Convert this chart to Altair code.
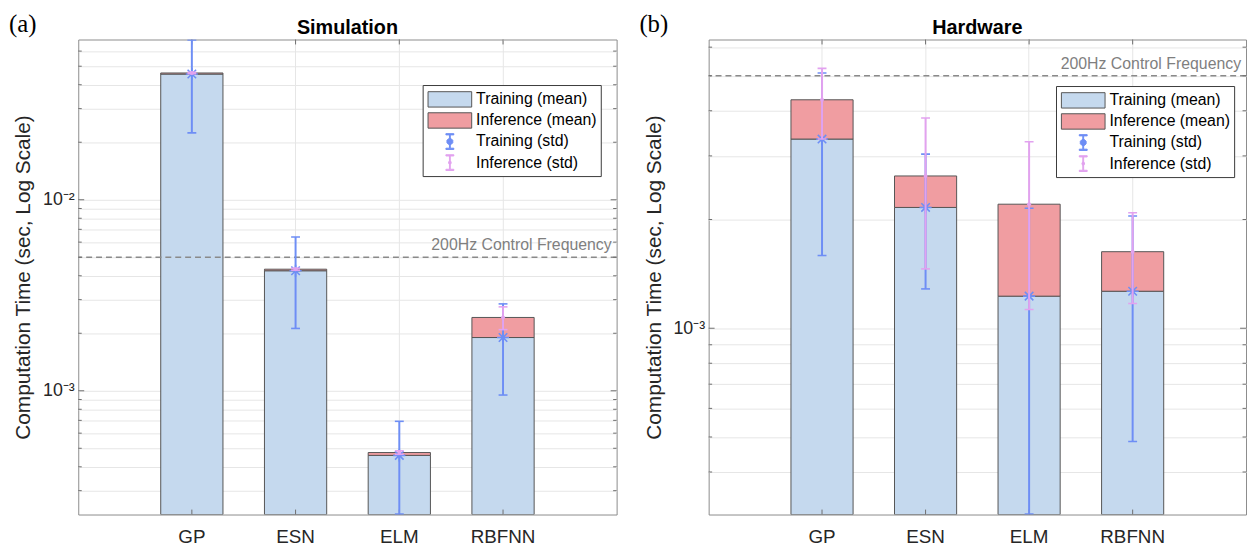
import altair as alt
import pandas as pd

# ---------------- data ----------------
models = ["GP", "ESN", "ELM", "RBFNN"]

sim_train_mean = [0.0455, 0.00425, 4.59e-4, 1.90e-3]
sim_infer_mean = [0.0006, 0.00008, 1.6e-5, 5.2e-4]
sim_train_std = [0.0231, 0.00213, 2.33e-4, 9.5e-4]
sim_infer_std = [0.0004, 0.00005, 1.0e-5, 3.3e-4]

hw_train_mean = [3.34e-3, 2.16e-3, 1.227e-3, 1.266e-3]
hw_infer_mean = [0.95e-3, 0.48e-3, 0.978e-3, 0.363e-3]
hw_train_std = [1.75e-3, 0.875e-3, 0.921e-3, 0.78e-3]
hw_infer_std = [0.95e-3, 1.18e-3, 1.078e-3, 0.458e-3]

sim_y_domain = [2.25e-4, 0.069]
hw_y_domain = [3.05e-4, 6.30e-3]
sim_grid = [3e-4, 4e-4, 5e-4, 6e-4, 7e-4, 8e-4, 9e-4,
            1e-3, 2e-3, 3e-3, 4e-3, 5e-3, 6e-3, 7e-3, 8e-3, 9e-3,
            1e-2, 2e-2, 3e-2, 4e-2, 5e-2, 6e-2]
hw_grid = [4e-4, 5e-4, 6e-4, 7e-4, 8e-4, 9e-4,
           1e-3, 2e-3, 3e-3, 4e-3, 5e-3, 6e-3]

control_period = [1.0 / 200.0]
control_label = "200Hz Control Frequency"
legend_labels = ["Training (mean)", "Inference (mean)", "Training (std)", "Inference (std)"]
panel_titles = ["Simulation", "Hardware"]
panel_tags = ["(a)", "(b)"]
y_title = "Computation Time (sec, Log Scale)"

# ---------------- styles ----------------
FONT = "Liberation Sans"
TRAIN_FILL = "#c5d9ee"
INFER_FILL = "#f09da1"
EDGE = "#555555"
BLUE = "#6e8ef5"
PINK = "#e2a2ef"
FRAME = "#8c8c8c"
TICK = "#6e6e6e"
STAR = "M-1,0H1M0,-1V1M-0.7,-0.7L0.7,0.7M-0.7,0.7L0.7,-0.7"
RECT = "M-2.1,-0.74H2.1V0.74H-2.1Z"
IBEAM_DOT = ("M-0.38,-0.76H0.38V-0.64H0.04V0.64H0.38V0.76H-0.38V0.64H-0.04V-0.64H-0.38Z "
             "M-0.12,-0.28L0.12,-0.28L0.28,-0.12L0.28,0.12L0.12,0.28L-0.12,0.28L-0.28,0.12L-0.28,-0.12Z")
IBEAM = ("M-0.38,-0.76H0.38V-0.64H0.04V0.64H0.38V0.76H-0.38V0.64H-0.04V-0.64H-0.38Z "
         "M-0.08,-0.12L0.08,-0.12L0.12,-0.08L0.12,0.08L0.08,0.12L-0.08,0.12L-0.12,0.08L-0.12,-0.08Z")

LOG10 = "log(datum.value)/LN10"
LABEL_EXPR = ("abs(" + LOG10 + " - round(" + LOG10 + ")) < 0.001 ? "
              "(round(" + LOG10 + ") == -2 ? '10⁻²' : (round(" + LOG10 + ") == -3 ? '10⁻³' : '')) : ''")

PLOT_H = 480


def panel(title_text, tag, train, infer, tstd, istd, ydom, grid_vals, width, legend_x, legend_y):
    df = pd.DataFrame({"model": models, "train": train, "infer": infer,
                       "tstd": tstd, "istd": istd})
    base = alt.Chart(df).transform_calculate(
        total="datum.train + datum.infer",
        t_lo="datum.train - datum.tstd",
        t_hi="datum.train + datum.tstd",
        i_lo="datum.train + datum.infer - datum.istd",
        i_hi="datum.train + datum.infer + datum.istd",
        base=str(ydom[0]),
    )
    xaxis = alt.Axis(title=None, labelAngle=0, labelFontSize=19, labelFont=FONT,
                     labelColor="#262626", grid=True, ticks=False, domain=False,
                     bandPosition=0.5, labelPadding=13)
    x = alt.X("model:N", sort=models,
              scale=alt.Scale(domain=models, paddingInner=0.4, paddingOuter=0.795),
              axis=xaxis)
    yscale = alt.Scale(type="log", domain=ydom, nice=False)
    yaxis = alt.Axis(title=y_title, values=grid_vals,
                     labelExpr=LABEL_EXPR, grid=True, ticks=False, domain=False,
                     labelFontSize=18, labelFont=FONT, labelColor="#262626",
                     labelPadding=4, titleFontSize=21, titleFont=FONT,
                     titleFontWeight="normal", titleColor="#262626", titlePadding=9)

    def Y(field):
        return alt.Y(field, scale=yscale, axis=yaxis, stack=None)

    bars_train = base.mark_bar(fill=TRAIN_FILL, stroke=EDGE, strokeWidth=1, clip=True).encode(
        x=x, y=Y("base:Q"), y2="train:Q")
    bars_infer = base.mark_bar(fill=INFER_FILL, stroke=EDGE, strokeWidth=1, clip=True).encode(
        x=x, y=Y("train:Q"), y2="total:Q")

    t_rule = base.mark_rule(color=BLUE, strokeWidth=2, clip=True).encode(
        x=x, y=Y("t_lo:Q"), y2="t_hi:Q")
    t_cap_lo = base.mark_tick(color=BLUE, size=9, thickness=1.6, clip=True, opacity=1).encode(
        x=x, y=Y("t_lo:Q"))
    t_cap_hi = base.mark_tick(color=BLUE, size=9, thickness=1.6, clip=True, opacity=1).encode(
        x=x, y=Y("t_hi:Q"))
    t_star = base.mark_point(shape=STAR, size=150, stroke=BLUE, strokeWidth=1.6,
                             filled=False, opacity=1, clip=True).encode(x=x, y=Y("train:Q"))

    i_rule = base.mark_rule(color=PINK, strokeWidth=2, clip=True).encode(
        x=x, y=Y("i_lo:Q"), y2="i_hi:Q")
    i_cap_lo = base.mark_tick(color=PINK, size=9, thickness=1.6, clip=True, opacity=1).encode(
        x=x, y=Y("i_lo:Q"))
    i_cap_hi = base.mark_tick(color=PINK, size=9, thickness=1.6, clip=True, opacity=1).encode(
        x=x, y=Y("i_hi:Q"))
    i_dot = base.mark_point(shape="circle", size=16, filled=True, fill=PINK,
                            opacity=1, clip=True).encode(x=x, y=Y("total:Q"))

    # inward tick marks (MATLAB-style box ticks)
    gt = alt.Chart(pd.DataFrame({"value": grid_vals})).transform_calculate(
        major="abs(" + LOG10 + " - round(" + LOG10 + ")) < 0.001")
    g_major = gt.transform_filter("datum.major")
    g_minor = gt.transform_filter("!datum.major")
    yt = [
        g_major.mark_rule(color=TICK, strokeWidth=1).encode(
            y=Y("value:Q"), x=alt.value(0), x2=alt.value(6)),
        g_major.mark_rule(color=TICK, strokeWidth=1).encode(
            y=Y("value:Q"), x=alt.value(width - 6), x2=alt.value(width)),
        g_minor.mark_rule(color=TICK, strokeWidth=1).encode(
            y=Y("value:Q"), x=alt.value(0), x2=alt.value(3.5)),
        g_minor.mark_rule(color=TICK, strokeWidth=1).encode(
            y=Y("value:Q"), x=alt.value(width - 3.5), x2=alt.value(width)),
    ]
    xt = [
        base.mark_rule(color=TICK, strokeWidth=1).encode(
            x=x, y=alt.value(PLOT_H), y2=alt.value(PLOT_H - 5)),
        base.mark_rule(color=TICK, strokeWidth=1).encode(
            x=x, y=alt.value(0), y2=alt.value(5)),
    ]

    ctrl = alt.Chart(pd.DataFrame({"period": control_period}))
    ctrl_line = ctrl.mark_rule(color="#8a8a8a", strokeDash=[6, 4], strokeWidth=1.5).encode(
        y=Y("period:Q"))
    ctrl_text = ctrl.mark_text(text=control_label, align="right", baseline="middle", dy=-12,
                               fontSize=16, font=FONT, color="#7f7f7f").encode(
        x=alt.value(width - 5), y=Y("period:Q"))

    heads = alt.Chart(pd.DataFrame({"tag": [tag], "title": [title_text]}))
    tag_text = heads.mark_text(
        align="left", baseline="alphabetic", font="Liberation Serif", fontSize=25,
        color="#000000").encode(text="tag:N", x=alt.value(-70), y=alt.value(-8))
    title_mark = heads.mark_text(
        align="center", baseline="alphabetic", font=FONT, fontSize=20, fontWeight="bold",
        color="#000000").encode(text="title:N", x=alt.value(width / 2), y=alt.value(-5.5))

    leg = alt.Legend(title=None, orient="none", legendX=legend_x, legendY=legend_y,
                     strokeColor="#3a3a3a", fillColor="white", padding=3.5,
                     symbolSize=441, symbolStrokeWidth=1, symbolOffset=13,
                     labelOffset=15.5, labelFontSize=16, labelFont=FONT,
                     labelColor="#000000", rowPadding=0.3, labelLimit=0)
    legend_layer = alt.Chart(pd.DataFrame({"series": legend_labels})).transform_filter(
        "false").mark_point(filled=True, opacity=1, size=441).encode(
        fill=alt.Fill("series:N", legend=leg,
                      scale=alt.Scale(domain=legend_labels,
                                      range=[TRAIN_FILL, INFER_FILL, BLUE, PINK])),
        stroke=alt.Stroke("series:N", legend=leg,
                          scale=alt.Scale(domain=legend_labels,
                                          range=[EDGE, EDGE, BLUE, PINK])),
        shape=alt.Shape("series:N", legend=leg,
                        scale=alt.Scale(domain=legend_labels,
                                        range=[RECT, RECT, IBEAM_DOT, IBEAM])),
    )

    return alt.layer(
        bars_train, bars_infer, ctrl_line, ctrl_text,
        *yt, *xt,
        t_rule, t_cap_lo, t_cap_hi, t_star,
        i_rule, i_cap_lo, i_cap_hi, i_dot,
        tag_text, title_mark, legend_layer,
    ).properties(width=width, height=PLOT_H)


left = panel(panel_titles[0], panel_tags[0], sim_train_mean, sim_infer_mean, sim_train_std,
             sim_infer_std, sim_y_domain, sim_grid, 544, 348, 46)
right = panel(panel_titles[1], panel_tags[1], hw_train_mean, hw_infer_mean, hw_train_std,
              hw_infer_std, hw_y_domain, hw_grid, 543, 351, 47)

chart = alt.hconcat(left, right, spacing=20).resolve_scale(
    x="independent", y="independent", fill="independent",
    stroke="independent", shape="independent",
).resolve_legend(
    fill="independent", stroke="independent", shape="independent",
).properties(padding=0).configure_view(
    stroke=FRAME, strokeWidth=1,
).configure_axis(
    gridColor="#e6e6e6", gridWidth=1,
)

chart.save("out.html", embed_options={"renderer": "svg", "actions": False})
